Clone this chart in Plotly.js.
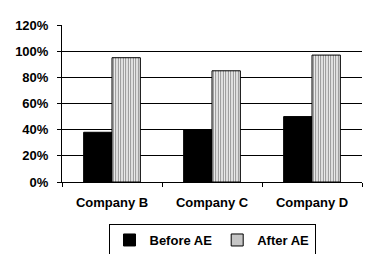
<!DOCTYPE html>
<html>
<head>
<meta charset="utf-8">
<script src="https://cdn.plot.ly/plotly-3.0.1.min.js"></script>
<style>html,body{margin:0;padding:0;background:#fff;}#chart{width:375px;height:254px;}</style>
</head>
<body>
<div id="chart"></div>
<script>
const categories = ["Company B", "Company C", "Company D"];
const seriesNames = ["Before AE", "After AE"];
const beforeAE = [38, 40, 50];
const afterAE = [95, 85, 97];
const yTicks = [0, 20, 40, 60, 80, 100, 120];

const font = {family: "Liberation Sans, Arial, sans-serif", size: 13, color: "#000", weight: "bold"};

const traces = [
  {
    type: "bar", name: seriesNames[0], x: categories, y: beforeAE,
    marker: {color: "#000", line: {color: "#000", width: 1}},
    hoverinfo: "skip"
  },
  {
    type: "bar", name: seriesNames[1], x: categories, y: afterAE,
    marker: {
      color: "#fff",
      line: {color: "#000", width: 1},
      pattern: {shape: "|", fgcolor: "#000", bgcolor: "#fff", size: 2.5, solidity: 0.45, fillmode: "overlay"}
    },
    hoverinfo: "skip"
  }
];

const layout = {
  width: 375, height: 254,
  margin: {l: 62, r: 13, t: 25, b: 72, pad: 0, autoexpand: false},
  paper_bgcolor: "#fff", plot_bgcolor: "#fff",
  font: font,
  barmode: "group",
  bargap: 0.433, bargroupgap: 0,
  showlegend: true,
  legend: {
    orientation: "h", xref: "paper", x: 0.5, xanchor: "center",
    yref: "container", y: 0.118, yanchor: "top",
    bordercolor: "#000", borderwidth: 1, font: font,
    itemwidth: 30, tracegroupgap: 0
  },
  xaxis: {
    type: "category", showline: true, linecolor: "#000", linewidth: 1,
    ticks: "outside", tickson: "boundaries", ticklen: 4, tickcolor: "#000",
    showgrid: false, tickfont: font, ticklabelstandoff: 8, automargin: false, fixedrange: true
  },
  yaxis: {
    range: [0, 120], tickvals: yTicks, ticktext: yTicks.map(v => v + "%"),
    showline: true, linecolor: "#000", linewidth: 1,
    ticks: "outside", ticklen: 4, tickcolor: "#000",
    showgrid: true, gridcolor: "#000", gridwidth: 1,
    zeroline: false, tickfont: font, ticklabelstandoff: 6, automargin: false, fixedrange: true
  }
};

Plotly.newPlot("chart", traces, layout, {staticPlot: true});
</script>
</body>
</html>
